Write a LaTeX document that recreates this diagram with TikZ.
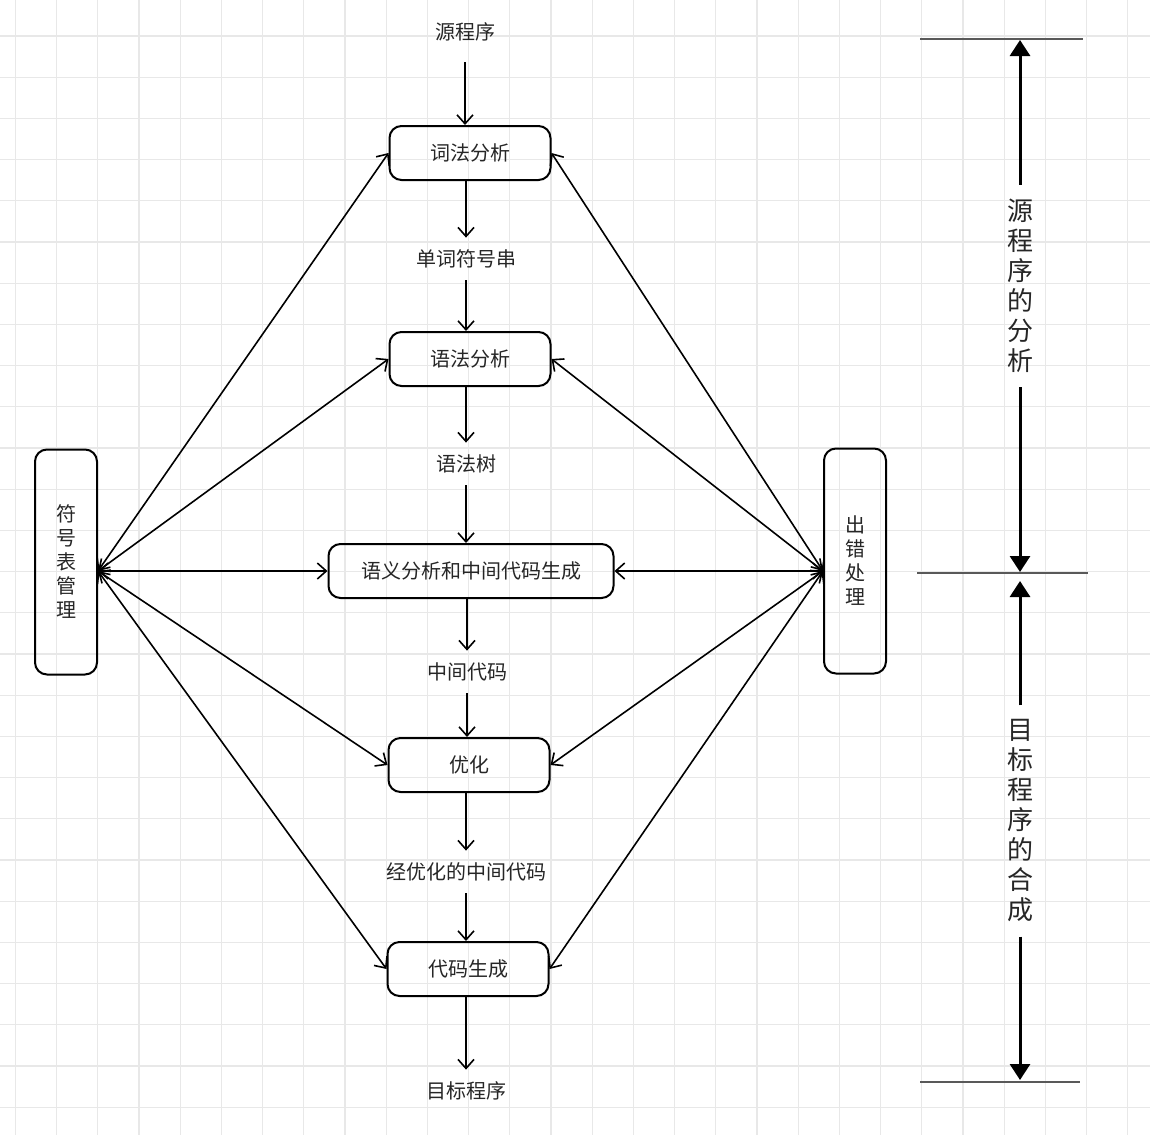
\documentclass[tikz,border=0pt]{standalone}
\usepackage{fontspec}
\newfontfamily\cjk{Noto Sans CJK SC}
\usetikzlibrary{arrows.meta}

\begin{document}
\begin{tikzpicture}[x=0.5pt,y=-0.5pt,
	gridline/.style={draw=black!9,line width=0.6pt},
	box/.style={draw,line width=1pt,rounded corners=6pt,minimum width=80.5pt,minimum height=27pt,text=black!85,font=\cjk\fontsize{10}{12}\selectfont},
	sidebox/.style={draw,line width=1pt,rounded corners=6pt,minimum width=31pt,minimum height=112.5pt,align=center,text=black!85,font=\cjk\fontsize{10}{12}\selectfont},
	plain/.style={inner sep=0pt,minimum height=21pt,text=black!85,font=\cjk\fontsize{10}{12}\selectfont},
	span/.style={inner sep=7pt,align=center,text=black!85,font=\cjk\fontsize{13}{15}\selectfont},
	flow/.style={line width=0.8pt,-{Straight Barb[length=4.5pt,width=8pt]}},
	link/.style={line width=0.8pt,{Straight Barb[length=4.5pt,width=8pt]}-{Straight Barb[length=4.5pt,width=8pt]}},
	rule/.style={draw=black!65,line width=0.8pt},
	bound/.style={line width=1.5pt,-{Triangle[length=8pt,width=10pt]}}]
	\useasboundingbox (0,0) rectangle (1150,1135);
	\fill[white] (0,0) rectangle (1150,1135);
	\foreach \gx in {0,...,27}
		\draw[gridline] ({15.3+41.2*\gx},0) -- ({15.3+41.2*\gx},1135);
	\foreach \gy in {0,...,26}
		\draw[gridline] (0,{36+41.2*\gy}) -- (1150,{36+41.2*\gy});

	\node[plain,minimum height=30pt] (src) at (465,32) {源程序};
	\node[box] (lex) at (470,153) {词法分析};
	\node[plain] (tok) at (466,259) {单词符号串};
	\node[box] (syn) at (470,359) {语法分析};
	\node[plain] (tree) at (466,464) {语法树};
	\node[box,minimum width=142.5pt] (sem) at (471,571) {语义分析和中间代码生成};
	\node[plain] (ir) at (467,672) {中间代码};
	\node[box] (opt) at (469,765) {优化};
	\node[plain] (oir) at (466,872) {经优化的中间代码};
	\node[box] (gen) at (468,969) {代码生成};
	\node[plain] (tgt) at (466,1091) {目标程序};

	\draw[flow] (src) -- (src |- lex.north);
	\draw[flow] (lex.south -| tok) -- (tok);
	\draw[flow] (tok) -- (tok |- syn.north);
	\draw[flow] (syn.south -| tree) -- (tree);
	\draw[flow] (tree) -- (tree |- sem.north);
	\draw[flow] (sem.south -| ir) -- (ir);
	\draw[flow] (ir) -- (ir |- opt.north);
	\draw[flow] (opt.south -| oir) -- (oir);
	\draw[flow] (oir) -- (oir |- gen.north);
	\draw[flow] (gen.south -| tgt) -- (tgt);

	\node[sidebox] (sym) at (66,562) {符\\号\\表\\管\\理};
	\node[sidebox] (err) at (855,561) {出\\错\\处\\理};
	\coordinate (lhub) at (sym.east |- sem);
	\coordinate (rhub) at (err.west |- sem);
	\foreach \n in {lex,syn,sem,opt,gen} {
		\draw[link] (lhub) -- (\n.west);
		\draw[link] (rhub) -- (\n.east);
	}

	\draw[rule] (920,39) -- (1083,39);
	\draw[rule] (917,573) -- (1088,573);
	\draw[rule] (920,1082) -- (1080,1082);
	\coordinate (top) at (1020,40);
	\coordinate (midup) at (1020,572);
	\coordinate (middown) at (1020,581);
	\coordinate (bottom) at (1020,1080);
	\node[span] (ana) at (1020,286) {源\\程\\序\\的\\分\\析};
	\node[span] (synth) at (1020,821) {目\\标\\程\\序\\的\\合\\成};
	\draw[bound] (ana.north) -- (top);
	\draw[bound] (ana.south) -- (midup);
	\draw[bound] (synth.north) -- (middown);
	\draw[bound] (synth.south) -- (bottom);
\end{tikzpicture}
\end{document}
